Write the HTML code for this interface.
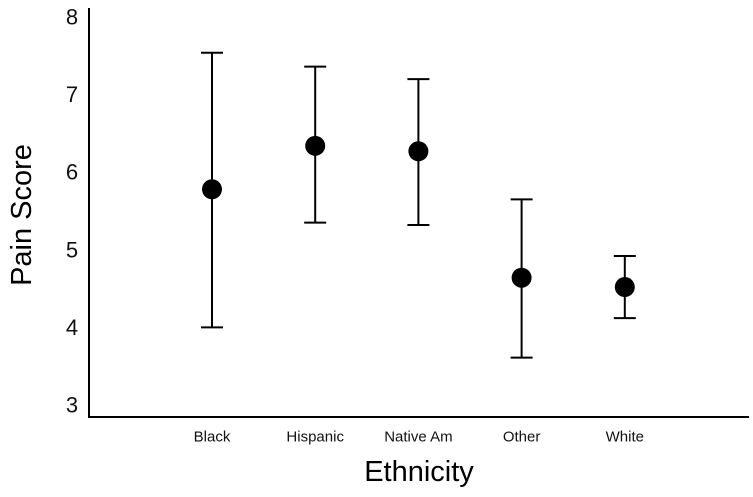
<!DOCTYPE html>
<html><head><meta charset="utf-8"><style>
html,body{margin:0;padding:0;background:#fff;}
svg{display:block;font-family:"Liberation Sans",Arial,sans-serif;}
</style></head><body>
<svg id="chart" width="753" height="497" viewBox="0 0 753 497">
<line x1="89" y1="8" x2="89" y2="417" stroke="#000" stroke-width="2"/>
<line x1="88" y1="417" x2="749" y2="417" stroke="#000" stroke-width="2"/>
<text x="22" y="215" font-size="29" text-anchor="middle" dominant-baseline="central" transform="rotate(-90 22 215)">Pain Score</text>
<text x="419" y="472" font-size="29" text-anchor="middle" dominant-baseline="central">Ethnicity</text>
<g id="ticks"></g>
<g id="marks"></g>
</svg>
<script>
const categories = ["Black","Hispanic","Native Am","Other","White"];
const means = [5.78, 6.34, 6.27, 4.64, 4.52];
const upper = [7.54, 7.36, 7.2, 5.65, 4.92];
const lower = [4.0, 5.35, 5.32, 3.61, 4.12];
const yTicks = [3,4,5,6,7,8];
const NS = "http://www.w3.org/2000/svg";
function y(v){ return 17 + (8 - v) * 77.6; }
function x(i){ return 212 + i * 103.2; }
function mk(tag, attrs){ const e=document.createElementNS(NS,tag); for(const k in attrs) e.setAttribute(k, attrs[k]); return e; }
const ticks=document.getElementById('ticks');
yTicks.forEach(v=>{
  const t=mk('text',{x:72,y:y(v),'font-size':22,'text-anchor':'middle','dominant-baseline':'central',fill:'#111'});
  
  
  t.textContent=v; ticks.appendChild(t);
});
categories.forEach((c,i)=>{
  const t=mk('text',{x:x(i),y:437,'font-size':15,'text-anchor':'middle','dominant-baseline':'central',fill:'#111'});
  
  
  t.textContent=c; ticks.appendChild(t);
});
const marks=document.getElementById('marks');
categories.forEach((c,i)=>{
  const g=mk('g',{stroke:'#000','stroke-width':2});
  
  
  g.appendChild(mk('line',{x1:x(i),x2:x(i),y1:y(upper[i]),y2:y(lower[i])}));
  g.appendChild(mk('line',{x1:x(i)-11,x2:x(i)+11,y1:y(upper[i]),y2:y(upper[i])}));
  g.appendChild(mk('line',{x1:x(i)-11,x2:x(i)+11,y1:y(lower[i]),y2:y(lower[i])}));
  marks.appendChild(g);
  const p=mk('circle',{cx:x(i),cy:y(means[i]),r:10,fill:'#000'});
  
  
  marks.appendChild(p);
});
</script>
</body></html>
